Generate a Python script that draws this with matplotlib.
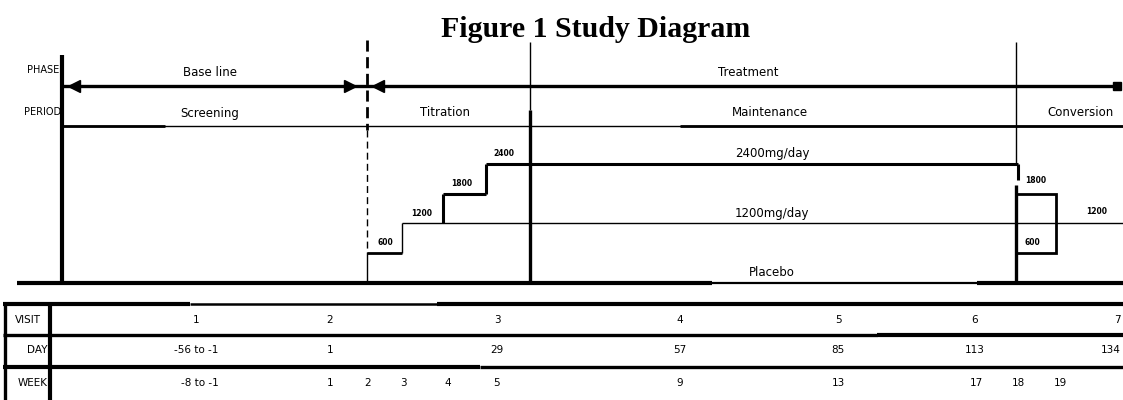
import matplotlib.pyplot as plt

# labels and values
phases = ["Base line", "Treatment"]
periods = ["Screening", "Titration", "Maintenance", "Conversion"]
titration_doses = [600, 1200, 1800, 2400]
conversion_doses = [1800, 600, 1200]
arm_labels = ["2400mg/day", "1200mg/day", "Placebo"]
arm_doses = [2400, 1200, 0]
visits = ["1", "2", "3", "4", "5", "6", "7"]
days = ["-56 to -1", "1", "29", "57", "85", "113", "134"]
weeks = ["-8 to -1", "1", "2", "3", "4", "5", "9", "13", "17", "18", "19"]

# layout (pixel coords)
W, H = 1123, 400
visit_x = [196, 330, 497, 680, 838, 975, 1117]
week_x = [200, 330, 368, 403, 448, 496, 680, 838, 976, 1018, 1060]
FONT = "DejaVu Sans"


def dose_y(d):
    # dose axis: 0 mg on the baseline, 2400 mg at the top step
    return 282 - d * 118 / 2400


fig = plt.figure(figsize=(W / 100, H / 100), dpi=100)
ax = fig.add_axes([0, 0, 1, 1])
ax.set_xlim(0, W)
ax.set_ylim(H, 0)
ax.axis("off")


def seg(x0, y0, x1, y1, lw=1.0, ls="-"):
    ax.plot([x0, x1], [y0, y1], color="black", lw=lw, ls=ls,
            solid_capstyle="butt", dash_capstyle="butt")


def txt(x, y, s, size=8.5, ha="center", **kw):
    ax.text(x, y, s, fontsize=size, ha=ha, va="center", family=FONT, **kw)


ax.text(596, 37, "Figure 1 Study Diagram", fontsize=21.5, fontweight="bold",
        family="Liberation Serif", ha="center", va="baseline")

# row labels
txt(59, 70, "PHASE", size=7, ha="right")
txt(61, 112, "PERIOD", size=7, ha="right")

# left frame line
seg(62, 55, 62, 283, lw=3)

# phase arrow
seg(62, 86, 1118, 86, lw=2.4)
ax.plot([74], [86], marker="<", ms=8, color="black")
ax.plot([350], [86], marker=">", ms=8, color="black")
ax.plot([378], [86], marker="<", ms=8, color="black")
ax.plot([1117], [86], marker="s", ms=6, color="black")
txt(210, 72, phases[0])
txt(748, 72, phases[1])

# period line
seg(62, 126, W, 126)
seg(62, 126, 165, 126, lw=2)
seg(680, 126, W, 126, lw=2)
for x, s in zip([210, 445, 770, 1080], periods):
    txt(x, 113, s)

# vertical dividers
seg(367, 40, 367, 130, lw=2, ls=(0, (4, 2)))
seg(367, 130, 367, 252, lw=1, ls=(0, (5, 3)))
seg(367, 252, 367, 283)
seg(530, 42, 530, 110)
seg(530, 110, 530, 283, lw=2.4)
seg(1016, 42, 1016, 164)
seg(1016, 185, 1016, 283, lw=2.4)

# titration steps
tx = [367, 402, 443, 486, 1018]
y6, y12, y18, y24 = [dose_y(d) for d in titration_doses]
seg(tx[0], y6, tx[1], y6, lw=2)
seg(tx[1], y6, tx[1], y12)
seg(tx[1], y12, W, y12)
seg(tx[2], y12, tx[2], y18, lw=2.2)
seg(tx[2], y18, tx[3], y18, lw=2.2)
seg(tx[3], y18, tx[3], y24, lw=2.2)
seg(tx[3], y24, tx[4], y24, lw=2.2)
seg(tx[4], y24, tx[4], 180, lw=2.2)
for x, d in zip([385, 422, 462, 504], titration_doses):
    txt(x, dose_y(d) - 10, str(d), size=5.5, fontweight="bold")

# conversion box
c18, c6, c12 = [dose_y(d) for d in conversion_doses]
ax.plot([1016, 1056, 1056, 1016], [c18, c18, c6, c6], color="black", lw=2,
        solid_joinstyle="miter")
txt(1036, c18 - 13, str(conversion_doses[0]), size=5.5, fontweight="bold")
txt(1032, c6 - 10, str(conversion_doses[1]), size=5.5, fontweight="bold")
txt(1097, c12 - 11, str(conversion_doses[2]), size=5.5, fontweight="bold")

for s, d in zip(arm_labels, arm_doses):
    txt(772, dose_y(d) - 10, s)

# baseline (placebo)
seg(17, 283, 712, 283, lw=3)
seg(712, 283, 977, 283, lw=1.6)
seg(977, 283, W, 283, lw=3)

# table
seg(3, 304, 190, 304, lw=3)
seg(190, 304, 437, 304, lw=1.8)
seg(437, 304, W, 304, lw=3)
seg(3, 335, 877, 335, lw=2.4)
seg(877, 335, W, 335, lw=3)
seg(3, 367, 480, 367, lw=3)
seg(480, 367, W, 367, lw=2.4)
seg(5, 303, 5, H, lw=2.4)
seg(50, 303, 50, H, lw=3)

txt(28, 320, "VISIT", size=7.5)
txt(48, 350, "DAY", size=7.5, ha="right")
txt(48, 383, "WEEK", size=7.5, ha="right")

for x, s in zip(visit_x, visits):
    txt(x, 320, s, size=7.5)
for x, s in zip(visit_x, days):
    if x > 1100:
        txt(W - 2, 350, s, size=7.5, ha="right")
    else:
        txt(x, 350, s, size=7.5)
for x, s in zip(week_x, weeks):
    txt(x, 383, s, size=7.5)

fig.savefig("out.png", dpi=100)
